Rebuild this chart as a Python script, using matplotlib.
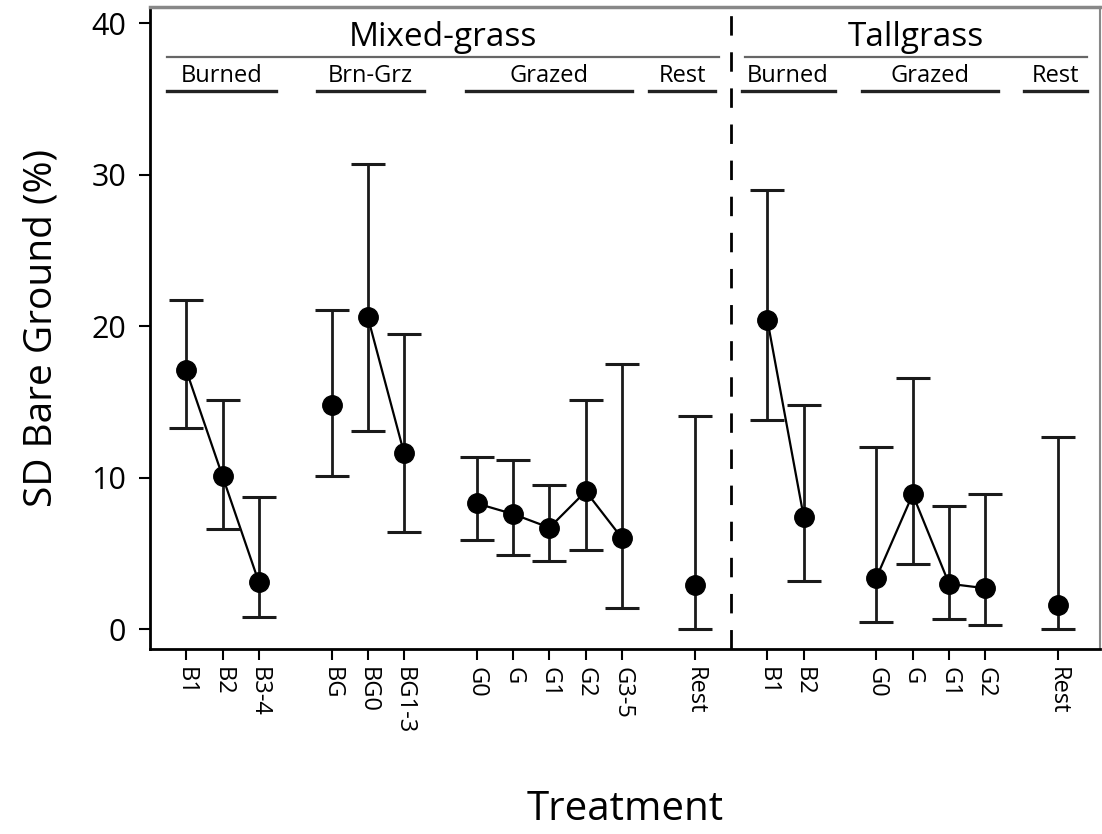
import numpy as np
import matplotlib.pyplot as plt

plt.rcParams['font.family'] = ['Open Sans', 'DejaVu Sans']

# ---------- data ----------
labels = ["B1", "B2", "B3-4", "BG", "BG0", "BG1-3", "G0", "G", "G1", "G2", "G3-5", "Rest",
          "B1", "B2", "G0", "G", "G1", "G2", "Rest"]
xpos = [1, 2, 3, 5, 6, 7, 9, 10, 11, 12, 13, 15, 17, 18, 20, 21, 22, 23, 25]
sd = [17.1, 10.1, 3.1, 14.8, 20.6, 11.6, 8.3, 7.6, 6.7, 9.1, 6.0, 2.9,
      20.4, 7.4, 3.4, 8.9, 3.0, 2.7, 1.6]
lower = [13.3, 6.6, 0.8, 10.1, 13.1, 6.4, 5.9, 4.9, 4.5, 5.2, 1.4, 0.0,
         13.8, 3.2, 0.5, 4.3, 0.7, 0.3, 0.0]
upper = [21.7, 15.1, 8.7, 21.1, 30.7, 19.5, 11.4, 11.2, 9.5, 15.1, 17.5, 14.1,
         29.0, 14.8, 12.0, 16.6, 8.1, 8.9, 12.7]

# index groups joined by a line
connected = [[0, 1, 2], [4, 5], [6, 7, 8, 9, 10], [12, 13], [14, 15, 16, 17]]

# header groups: (label, x start, x end)
systems = [("Mixed-grass", 0.48, 15.68), ("Tallgrass", 16.37, 25.8)]
subgroups = [("Burned", 0.48, 3.48), ("Brn-Grz", 4.6, 7.56), ("Grazed", 8.7, 13.26),
             ("Rest", 13.73, 15.57), ("Burned", 16.29, 18.85), ("Grazed", 19.6, 23.34),
             ("Rest", 24.06, 25.8)]
divider = 16

x = np.array(xpos)
y = np.array(sd)
yerr = [y - np.array(lower), np.array(upper) - y]

fig = plt.figure(figsize=(11.02, 8.34), dpi=100)
ax = fig.add_axes([0.136, 0.222, 0.862, 0.770])

for grp in connected:
    ax.plot(x[grp], y[grp], color="black", lw=1.6, zorder=2)

ax.errorbar(x, y, yerr=yerr, fmt="none", ecolor="#1a1a1a", elinewidth=2.0,
            capsize=12, capthick=2.2, zorder=3)
ax.plot(x, y, "o", color="black", ms=14, zorder=4)

ax.axvline(divider, color="black", lw=2, ls=(0, (7, 6)), zorder=1)

# header annotations
for name, a, b in systems:
    ax.plot([a, b], [37.75, 37.75], color="#666666", lw=1.6, clip_on=False)
    ax.text((a + b) / 2, 38.0, name, ha="center", va="bottom", fontsize=24)
for name, a, b in subgroups:
    ax.plot([a, b], [35.5, 35.5], color="#222222", lw=2.4, clip_on=False)
    ax.text((a + b) / 2, 35.75, name, ha="center", va="bottom", fontsize=17)

ax.set_xlim(0, 26.15)
ax.set_ylim(-1.3, 41.1)
ax.set_yticks([0, 10, 20, 30, 40])
ax.set_xticks(xpos)
ax.set_xticklabels(labels, rotation=270, fontsize=17)
ax.tick_params(axis="y", labelsize=22, length=8, width=1.5, direction="out", pad=9)
ax.tick_params(axis="x", length=8, width=1.5, direction="out", pad=5)

for side in ["left", "bottom"]:
    ax.spines[side].set_linewidth(2)
    ax.spines[side].set_color("black")
ax.spines["top"].set_linewidth(2.5)
ax.spines["top"].set_color("#888888")
ax.spines["right"].set_linewidth(1.5)
ax.spines["right"].set_color("#888888")

ax.set_ylabel("SD Bare Ground (%)", fontsize=28, labelpad=22)
ax.set_xlabel("Treatment", fontsize=29, labelpad=40)

fig.savefig("out.png", dpi=100)
